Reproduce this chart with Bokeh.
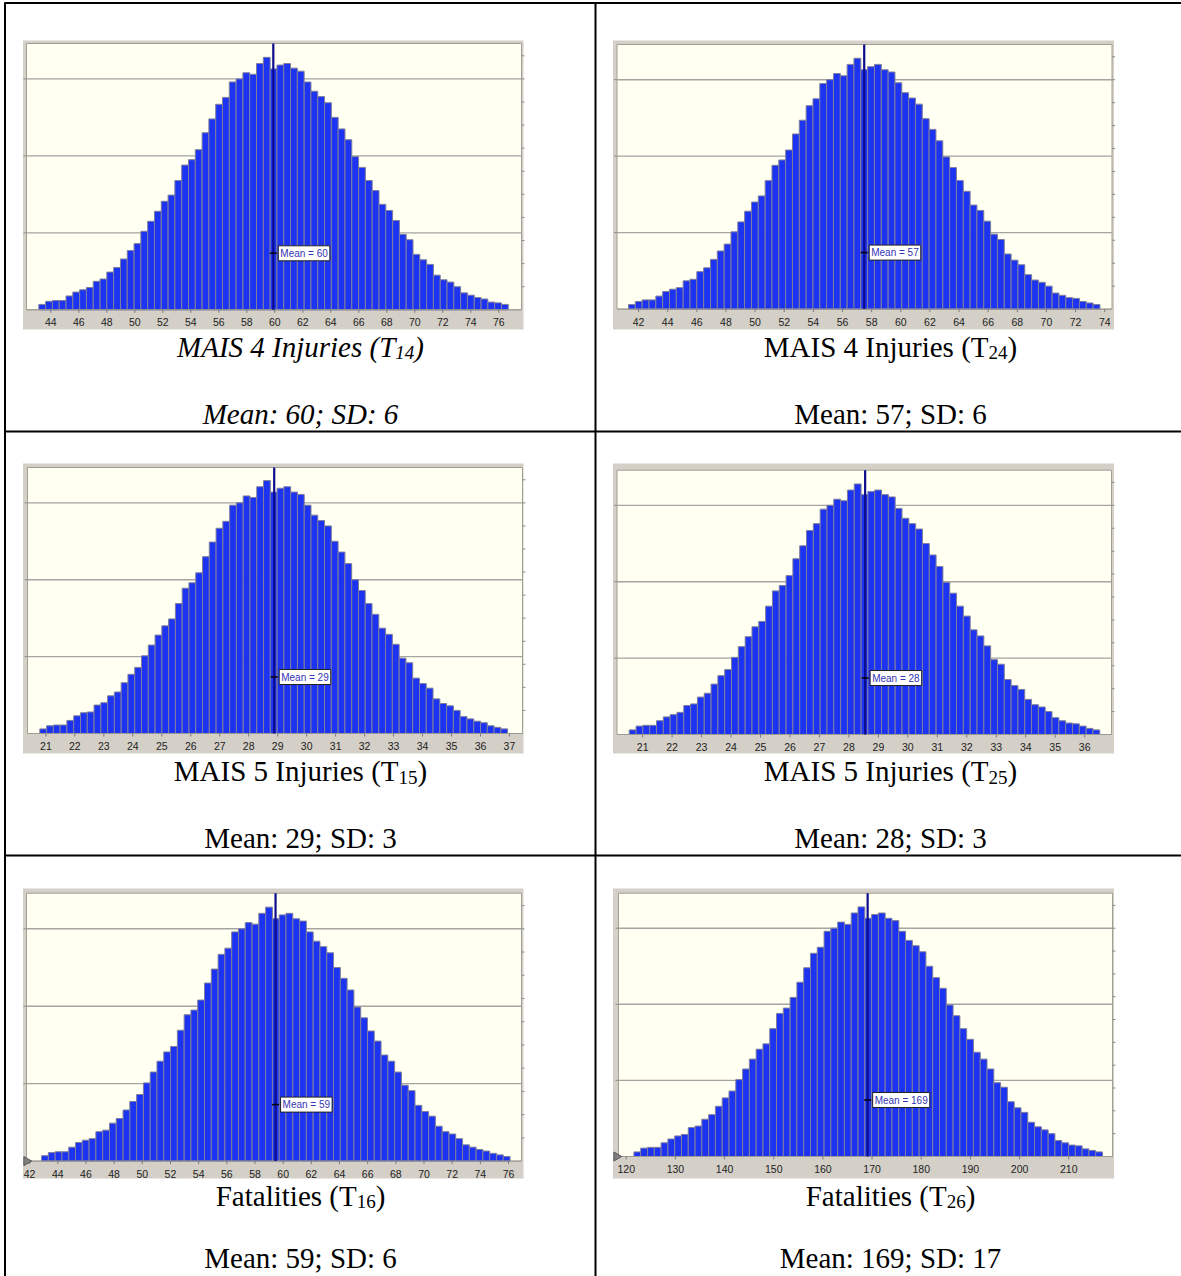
import numpy as np
from bokeh.plotting import figure
from bokeh.models import Range1d, Label
from bokeh.core.properties import value
from bokeh.embed import file_html
from bokeh.resources import INLINE

W, H = 1181, 1276

# ---------------- data (frequencies out of 10,000 trials) -------------
counts_t14 = [7, 11, 12, 12, 18, 23, 26, 29, 37, 40, 49, 55, 66, 77, 86, 102, 115, 128, 141, 149,
              168, 188, 195, 208, 230, 248, 267, 276, 296, 300, 308, 306, 320, 328, 313, 318, 320, 314, 310, 296,
              284, 277, 269, 250, 235, 221, 199, 185, 168, 155, 137, 129, 116, 98, 91, 72, 65, 59, 45, 39,
              36, 30, 22, 19, 16, 14, 10, 9, 7]
counts_t24 = [6, 10, 12, 12, 17, 23, 26, 28, 37, 39, 49, 54, 65, 76, 85, 101, 114, 128, 140, 148,
              168, 188, 195, 208, 229, 247, 266, 275, 295, 300, 308, 305, 320, 328, 313, 317, 320, 313, 310, 296,
              283, 276, 268, 249, 235, 220, 199, 185, 168, 154, 136, 129, 115, 98, 91, 72, 64, 58, 45, 38,
              35, 30, 21, 18, 15, 14, 10, 8, 6]
counts_t15 = [6, 10, 11, 11, 17, 23, 27, 28, 37, 40, 49, 54, 66, 77, 86, 101, 115, 128, 140, 149,
              169, 189, 196, 209, 230, 249, 267, 276, 297, 300, 309, 307, 321, 329, 314, 319, 321, 314, 311, 297,
              284, 277, 270, 250, 236, 221, 200, 186, 169, 155, 137, 129, 116, 98, 92, 72, 65, 59, 45, 39,
              36, 30, 22, 19, 16, 14, 10, 8, 6]
counts_t25 = [6, 11, 12, 12, 18, 23, 26, 29, 38, 40, 49, 54, 66, 77, 85, 101, 115, 128, 141, 148,
              168, 188, 195, 208, 230, 247, 267, 276, 295, 300, 308, 306, 320, 328, 314, 318, 320, 314, 311, 296,
              283, 276, 269, 250, 235, 220, 199, 185, 168, 155, 137, 129, 116, 98, 92, 72, 64, 59, 46, 39,
              36, 30, 22, 18, 15, 14, 11, 8, 6]
counts_t16 = [7, 11, 12, 12, 18, 24, 27, 29, 38, 40, 49, 55, 66, 77, 86, 101, 115, 129, 141, 148,
              169, 189, 195, 208, 230, 248, 267, 275, 296, 300, 308, 306, 320, 328, 313, 318, 320, 313, 310, 296,
              284, 277, 269, 250, 236, 221, 199, 185, 168, 155, 137, 129, 115, 98, 91, 72, 64, 58, 45, 38,
              35, 29, 21, 18, 15, 13, 10, 8, 6]
counts_t26 = [6, 11, 12, 12, 18, 23, 27, 29, 38, 40, 49, 55, 66, 77, 86, 101, 115, 128, 141, 148,
              168, 188, 195, 209, 229, 248, 267, 275, 296, 300, 308, 305, 320, 328, 313, 318, 320, 313, 310, 296,
              284, 277, 269, 250, 235, 221, 199, 185, 168, 154, 137, 128, 115, 97, 91, 72, 64, 58, 45, 39,
              35, 30, 21, 18, 15, 14, 10, 8, 6]
all_counts = [counts_t14, counts_t24, counts_t15, counts_t25, counts_t16, counts_t26]

bin_start = [43.14, 41.31, 20.79, 20.545, 42.85, 121.57]
bin_width = [0.486, 0.469, 0.234, 0.2314, 0.482, 1.381]
means = [59.89, 57.49, 28.88, 28.55, 59.46, 169.1]
mean_labels = ["Mean = 60", "Mean = 57", "Mean = 29", "Mean = 28", "Mean = 59", "Mean = 169"]

ticks_t14 = [44, 46, 48, 50, 52, 54, 56, 58, 60, 62, 64, 66, 68, 70, 72, 74, 76]
ticks_t24 = [42, 44, 46, 48, 50, 52, 54, 56, 58, 60, 62, 64, 66, 68, 70, 72, 74]
ticks_t15 = [21, 22, 23, 24, 25, 26, 27, 28, 29, 30, 31, 32, 33, 34, 35, 36, 37]
ticks_t25 = [21, 22, 23, 24, 25, 26, 27, 28, 29, 30, 31, 32, 33, 34, 35, 36]
ticks_t16 = [42, 44, 46, 48, 50, 52, 54, 56, 58, 60, 62, 64, 66, 68, 70, 72, 74, 76]
ticks_t26 = [120, 130, 140, 150, 160, 170, 180, 190, 200, 210]
all_ticks = [ticks_t14, ticks_t24, ticks_t15, ticks_t25, ticks_t16, ticks_t26]

grid_values = [100, 200, 300]
freq_ticks = [30, 60, 90, 120, 150, 180, 210, 240, 270, 300, 330]
YMAX = 346

title_main = ["MAIS 4 Injuries (T", "MAIS 4 Injuries (T", "MAIS 5 Injuries (T",
              "MAIS 5 Injuries (T", "Fatalities (T", "Fatalities (T"]
title_sub = ["14", "24", "15", "25", "16", "26"]
stats = ["Mean: 60; SD: 6", "Mean: 57; SD: 6", "Mean: 29; SD: 3",
         "Mean: 28; SD: 3", "Mean: 59; SD: 6", "Mean: 169; SD: 17"]

# ---------------- layout (page pixels) ----------------
panels = [
    dict(frame=(22.5, 523, 40, 329), plot=(26, 521, 43, 309.3), xr=(42.26, 77.62), cx=300, row=0, italic=True, grab=False),
    dict(frame=(612.5, 1113.5, 40, 329), plot=(616.5, 1111.5, 44, 308.6), xr=(40.52, 74.5), cx=890, row=0, italic=False, grab=False),
    dict(frame=(22.5, 523, 463, 753), plot=(27, 522, 467, 733), xr=(20.365, 37.45), cx=300, row=1, italic=False, grab=False),
    dict(frame=(612.5, 1113.5, 463, 753), plot=(616.5, 1111, 469.7, 734), xr=(20.13, 36.91), cx=890, row=1, italic=False, grab=False),
    dict(frame=(22.5, 523, 888, 1178), plot=(26, 521, 892.7, 1160.6), xr=(41.78, 76.92), cx=300, row=2, italic=False, grab=True),
    dict(frame=(612.5, 1113.5, 888, 1178), plot=(618, 1112, 892.7, 1156), xr=(118.43, 218.9), cx=890, row=2, italic=False, grab=True),
]
row_off = [0, 424.5, 849]
stat_adj = [0, 0, -5]
cap_base = 346
stat_base = 413

REG = {'M': 889, 'A': 722, 'I': 333, 'S': 556, ' ': 250, 'n': 500, 'j': 278, 'u': 500, 'r': 333,
       'i': 278, 'e': 444, 's': 389, '(': 333, ')': 333, 'T': 611, 'F': 556, 'a': 444, 't': 278, 'l': 278}
ITA = {'M': 833, 'A': 611, 'I': 333, 'S': 500, ' ': 250, 'n': 500, 'j': 278, 'u': 500, 'r': 389,
       'i': 278, 'e': 444, 's': 389, '(': 333, ')': 333, 'T': 556, 'F': 611, 'a': 500, 't': 278, 'l': 278}


def tw(s, size, italic):
    tab = ITA if italic else REG
    return sum(tab.get(c, 500) for c in s) / 1000.0 * size


CAP_SIZE = 29
SUB_SIZE = 19

p = figure(width=W, height=H, x_range=Range1d(0, W), y_range=Range1d(H, 0),
           output_backend="svg", toolbar_location=None, min_border=0,
           x_axis_type=None, y_axis_type=None, outline_line_color=None,
           background_fill_color="white", border_fill_color="white")

for i, pn in enumerate(panels):
    xn, yn = "x%d" % i, "y%d" % i
    fx0, fx1, fy0, fy1 = pn["frame"]
    l, r, t, b = pn["plot"]
    x0d, x1d = pn["xr"]
    sx = (x1d - x0d) / (r - l)
    p.extra_x_ranges[xn] = Range1d(x0d - l * sx, x0d + (W - l) * sx)
    sy = YMAX / (b - t)
    p.extra_y_ranges[yn] = Range1d((b - H) * sy, b * sy)

    # chart window + plot area
    p.quad(left=[fx0], right=[fx1], top=[fy0], bottom=[fy1], fill_color="#d4d0c8", line_color=None)
    p.quad(left=[l], right=[r], top=[t], bottom=[b], fill_color="#fffff2",
           line_color="#a19e96", line_width=1)

    # grid lines
    p.segment(x0=[x0d] * 3, x1=[x1d] * 3, y0=grid_values, y1=grid_values,
              line_color="#a4a4a0", line_width=1.4, x_range_name=xn, y_range_name=yn)
    # small side ticks
    p.segment(x0=[l - 3] * 3, x1=[l] * 3, y0=grid_values, y1=grid_values,
              line_color="#8c8c8c", line_width=1, y_range_name=yn)
    p.segment(x0=[r] * len(freq_ticks), x1=[r + 3] * len(freq_ticks), y0=freq_ticks, y1=freq_ticks,
              line_color="#8c8c8c", line_width=1, y_range_name=yn)

    # bars
    cnt = all_counts[i]
    edges = bin_start[i] + bin_width[i] * np.arange(len(cnt) + 1)
    p.quad(left=edges[:-1], right=edges[1:], top=cnt, bottom=0,
           fill_color="#1c33f2", line_color="#7e7e9c", line_width=1,
           x_range_name=xn, y_range_name=yn)

    # baseline
    p.segment(x0=[l], x1=[r], y0=[b], y1=[b], line_color="#9a9a96", line_width=1)

    # x ticks + labels
    tk = all_ticks[i]
    p.segment(x0=tk, x1=tk, y0=[b] * len(tk), y1=[b + 3] * len(tk),
              line_color="#7a7a7a", line_width=1, x_range_name=xn)
    p.text(x=tk, y=[b + 12.5] * len(tk), text=[str(v) for v in tk],
           text_font=value("Liberation Sans"), text_font_size="10.5px", text_color="#222222",
           text_align="center", text_baseline="middle", x_range_name=xn)

    # certainty grabbers
    if pn["grab"]:
        p.scatter(x=[fx0 + 3.5], y=[b], marker="triangle", angle=-np.pi / 2, size=9,
                  fill_color="#808080", line_color="#555555", line_width=1)

    # mean line + label
    p.segment(x0=[means[i]], x1=[means[i]], y0=[0], y1=[YMAX],
              line_color="#0c0c8c", line_width=2.2, x_range_name=xn, y_range_name=yn)
    p.scatter(x=[means[i]], y=[b - 56.5], marker="dash", size=7, line_color="black",
              line_width=1.5, x_range_name=xn)
    p.add_layout(Label(x=means[i], y=b - 56.5, x_range_name=xn, text=mean_labels[i],
                       x_offset=5, text_align="left", text_baseline="middle",
                       text_font="Liberation Sans", text_font_size="10px", text_color="#3434b4",
                       background_fill_color="white", border_line_color="#222222",
                       border_line_width=1, padding=2))

    # captions
    ro = row_off[pn["row"]]
    it = pn["italic"]
    style = "italic" if it else "normal"
    wm = tw(title_main[i], CAP_SIZE, it)
    ws = tw(title_sub[i], SUB_SIZE, it)
    wp = tw(")", CAP_SIZE, it)
    a = pn["cx"] - (wm + ws + wp) / 2 + wm
    p.text(x=[a], y=[cap_base + ro], text=[title_main[i]], text_font=value("Liberation Serif"),
           text_font_size="%dpx" % CAP_SIZE, text_font_style=style, text_color="black",
           text_align="right", text_baseline="alphabetic")
    p.text(x=[a], y=[cap_base + ro + 6], text=[title_sub[i]], text_font=value("Liberation Serif"),
           text_font_size="%dpx" % SUB_SIZE, text_font_style=style, text_color="black",
           text_align="left", text_baseline="alphabetic")
    p.text(x=[a + ws], y=[cap_base + ro], text=[")"], text_font=value("Liberation Serif"),
           text_font_size="%dpx" % CAP_SIZE, text_font_style=style, text_color="black",
           text_align="left", text_baseline="alphabetic")
    p.text(x=[pn["cx"]], y=[stat_base + ro + stat_adj[pn["row"]]], text=[stats[i]],
           text_font=value("Liberation Serif"),
           text_font_size="%dpx" % CAP_SIZE, text_font_style=style, text_color="black",
           text_align="center", text_baseline="alphabetic")

# table rules
p.segment(x0=[4, 4, 4, 4.5, 595], x1=[W, W, W, 4.5, 595],
          y0=[2.5, 431, 855, 2, 2], y1=[2.5, 431, 855, H, H],
          line_color="black", line_width=2)

open("out.html", "w").write(file_html(p, INLINE))
